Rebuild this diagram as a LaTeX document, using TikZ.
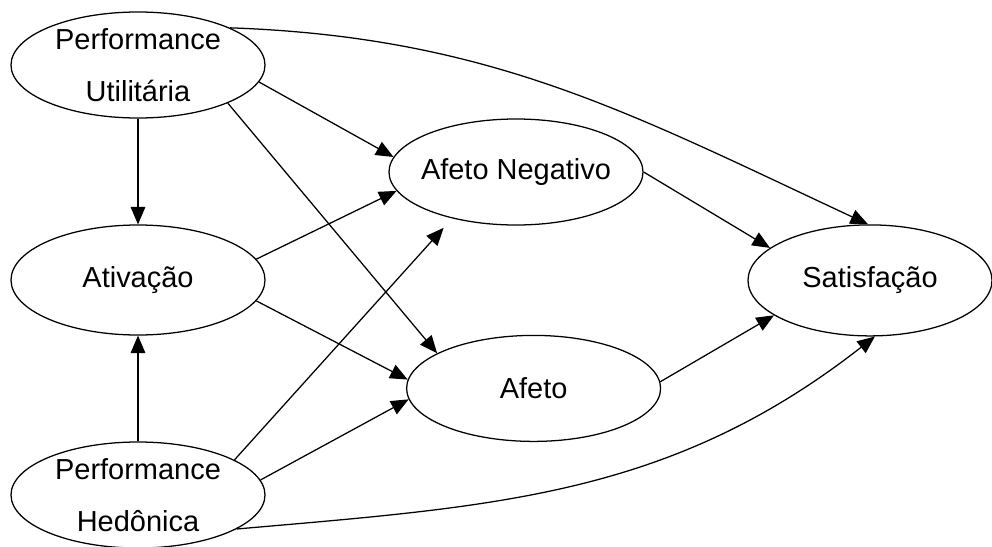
\documentclass[tikz,border=0pt]{standalone}
\usepackage{fontspec}
\setmainfont{Liberation Sans}
\usetikzlibrary{shapes.geometric,arrows.meta}

\begin{document}
\begin{tikzpicture}[
    latente/.style={shape=ellipse, draw, line width=0.9pt, inner sep=0pt,
        minimum width=6.35cm, minimum height=2.65cm, align=center,
        font=\fontsize{20.6}{37}\selectfont},
    seta/.style={line width=0.9pt, -{Triangle[length=12.5pt, width=10.5pt]}}]
    \useasboundingbox (0,0) rectangle (24.8,-13.65);
    \node[latente, inner ysep=-2pt] (pu) at (3.45,-1.625) {Performance\\Utilitária};
    \node[latente, minimum height=2.75cm] (ativ) at (3.45,-7) {Ativação};
    \node[latente, inner ysep=-2pt] (ph) at (3.45,-12.375) {Performance\\Hedônica};
    \node[latente, inner xsep=-4pt] (an) at (12.9,-4.3) {Afeto Negativo};
    \node[latente] (afeto) at (13.34,-9.71) {Afeto};
    \node[latente, minimum width=6.1cm, minimum height=2.775cm] (sat) at (21.75,-7.01) {Satisfação};
    \draw[seta] (pu.south) -- (ativ.north);
    \draw[seta] (ph.north) -- (ativ.south);
    \draw[seta] (pu.-8) -- (an.173);
    \draw[seta] (pu.-23) -- (afeto.160);
    \draw[seta] (pu.22) to[out=-2, in=155] (sat.92);
    \draw[seta] (ativ.10) -- (an.189);
    \draw[seta] (ativ.-10) -- (afeto.176);
    \draw[seta, shorten >=9pt] (ph.20) -- (an.216);
    \draw[seta] (ph.7) -- (afeto.185);
    \draw[seta] (ph.-19) to[out=5, in=-142] (sat.-85);
    \draw[seta] (an.east) -- (sat.162);
    \draw[seta] (afeto.3) -- (sat.200);
\end{tikzpicture}
\end{document}
